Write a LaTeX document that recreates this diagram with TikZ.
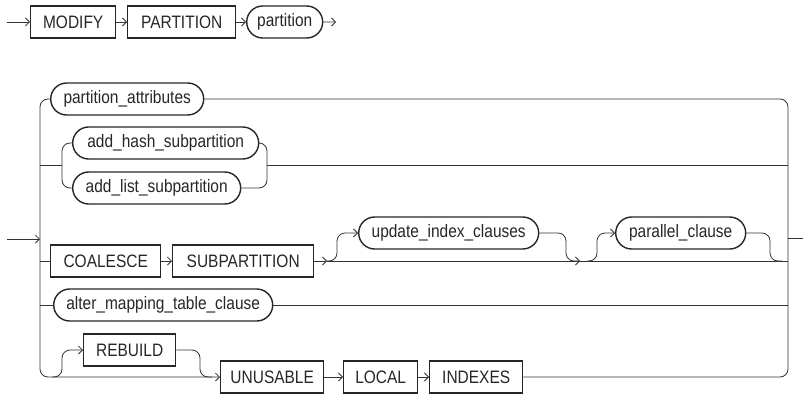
\documentclass[tikz,border=0pt]{standalone}
\usepackage{fontspec}
\setmainfont{Liberation Sans}[FakeStretch=0.86]
\usetikzlibrary{arrows.meta,shapes.misc}
\begin{document}
\begin{tikzpicture}[x=1pt,y=-1pt,
  every node/.style={font=\fontsize{18}{20}\selectfont, text=black!85, inner sep=0pt},
  kw/.style={draw=black!85, rectangle, line width=1.4pt, minimum height=32pt, anchor=west},
  nt/.style={draw=black!85, rounded rectangle, line width=1.4pt, minimum height=32pt, anchor=west},
  rail/.style={draw=black!80, line width=0.8pt, rounded corners=8pt},
  arr/.style={rail, -{Straight Barb[length=4pt,width=8pt]}},
]
\useasboundingbox (0,0) rectangle (803,396);

% --- MODIFY PARTITION partition
\coordinate (s0) at (7,22);
\node[kw, minimum width=85pt]  (modify) at (30,22)  {MODIFY};
\node[kw, minimum width=108pt] (partkw) at (127,22) {PARTITION};
\node[nt, minimum width=76pt]  (part)   at (246,22) {partition};
\coordinate (e0) at (336,22);
\draw[arr] (s0) -- (modify);
\draw[arr] (modify) -- (partkw);
\draw[arr] (partkw) -- (part);
\draw[arr] (part) -- (e0);

% --- alternatives
\node[nt, minimum width=153pt] (pattr)   at (50,99)   {partition\_attributes};
\node[nt, minimum width=186pt] (hash)    at (72,143)  {add\_hash\_subpartition};
\node[nt, minimum width=168pt] (list)    at (72,188)  {add\_list\_subpartition};
\node[kw, minimum width=110pt] (coal)    at (50,261)  {COALESCE};
\node[kw, minimum width=141pt] (subp)    at (172,261) {SUBPARTITION};
\node[nt, minimum width=180pt] (uic)     at (358,233) {update\_index\_clauses};
\node[nt, minimum width=130pt] (par)     at (615,233) {parallel\_clause};
\node[nt, minimum width=219pt] (amt)     at (53,305)  {alter\_mapping\_table\_clause};
\node[kw, minimum width=92pt]  (rebuild) at (83,350)  {REBUILD};
\node[kw, minimum width=103pt] (unus)    at (220,377) {UNUSABLE};
\node[kw, minimum width=74pt]  (local)   at (343,377) {LOCAL};
\node[kw, minimum width=93pt]  (idx)     at (429,377) {INDEXES};

% rail junction points
\coordinate (in)   at (7,239);
\coordinate (lin)  at (40,239);
\coordinate (lt)   at (40,99);
\coordinate (lb)   at (40,377);
\coordinate (lh)   at (40,165);
\coordinate (lc)   at (40,261);
\coordinate (la)   at (40,305);
\coordinate (rt)   at (788,99);
\coordinate (rb)   at (788,377);
\coordinate (rh)   at (788,165);
\coordinate (rc)   at (788,261);
\coordinate (ra)   at (788,305);
\coordinate (rout) at (788,238);
\coordinate (out)  at (803,238);

% outer rails
\draw[arr] (in) -- (lin);
\draw[arr] (pattr.west) -- (lt) -- (lb) -- (unus.west);
\draw[rail] (pattr.east) -- (rt) -- (rb) -- (idx.east);
\draw[rail] (rout) -- (out);

% hash / list subpartition choice
\coordinate (gl) at (62,165);
\coordinate (gr) at (267,165);
\draw[rail] (lh) -- (gl);
\draw[rail] (hash.west) -- (62,143) -- (62,188) -- (list.west);
\draw[rail] (hash.east) -- (267,143) -- (267,188) -- (list.east);
\draw[rail] (gr) -- (rh);

% COALESCE SUBPARTITION [update_index_clauses] [parallel_clause]
\coordinate (sp) at (327,261);
\coordinate (m1) at (580,261);
\coordinate (p0) at (587,261);
\coordinate (m2) at (782,261);
\draw[rail] (lc) -- (coal.west);
\draw[arr] (coal) -- (subp);
\draw[arr] (subp.east) -- (sp);
\draw[rail] (sp) -- (rc);
\draw[arr] (sp) -- (337,261) -- (337,233) -- (uic.west);
\draw[arr] (uic.east) -- (566,233) -- (566,261) -- (m1);
\draw[arr] (p0) -- (597,261) -- (597,233) -- (par.west);
\draw[rail] (par.east) -- (770,233) -- (770,261) -- (m2);

% alter_mapping_table_clause
\draw[rail] (la) -- (amt.west);
\draw[rail] (amt.east) -- (ra);

% [REBUILD] UNUSABLE LOCAL INDEXES
\coordinate (r0) at (52,377);
\coordinate (r1) at (212,377);
\draw[arr] (r0) -- (62,377) -- (62,350) -- (rebuild.west);
\draw[rail] (rebuild.east) -- (200,350) -- (200,377) -- (r1);
\draw[arr] (unus) -- (local);
\draw[arr] (local) -- (idx);
\end{tikzpicture}
\end{document}
